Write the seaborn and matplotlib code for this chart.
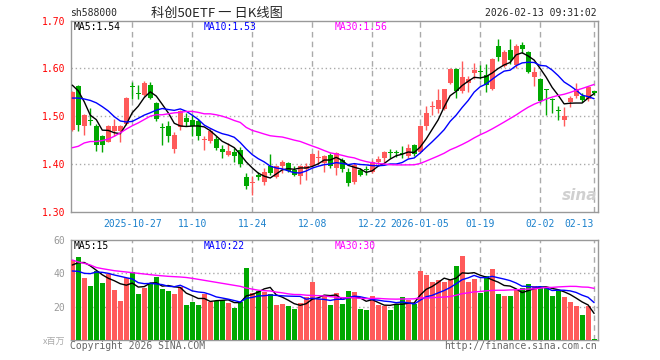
import numpy as np
import pandas as pd
import matplotlib
matplotlib.use("Agg")
import matplotlib.pyplot as plt
import seaborn as sns

# ---------------- data ----------------
opens = [1.472, 1.564, 1.480, 1.490, 1.480, 1.458, 1.447, 1.468, 1.468, 1.484,
         1.563, 1.548, 1.545, 1.566, 1.528, 1.476, 1.479, 1.431, 1.477, 1.496,
         1.493, 1.489, 1.450, 1.449, 1.452, 1.431, 1.419, 1.424, 1.430, 1.373,
         1.360, 1.377, 1.363, 1.395, 1.372, 1.396, 1.403, 1.388, 1.375, 1.389,
         1.396, 1.412, 1.403, 1.419, 1.391, 1.409, 1.384, 1.363, 1.388, 1.388,
         1.384, 1.405, 1.412, 1.424, 1.423, 1.422, 1.417, 1.440, 1.426, 1.479,
         1.520, 1.515, 1.515, 1.570, 1.598, 1.552, 1.570, 1.590, 1.593, 1.587,
         1.557, 1.647, 1.606, 1.639, 1.608, 1.650, 1.634, 1.583, 1.578, 1.555,
         1.534, 1.511, 1.493, 1.529, 1.542, 1.543, 1.535, 1.552]
highs = [1.553, 1.566, 1.505, 1.518, 1.484, 1.460, 1.481, 1.494, 1.481, 1.540,
         1.571, 1.566, 1.573, 1.571, 1.530, 1.486, 1.489, 1.466, 1.514, 1.507,
         1.503, 1.494, 1.459, 1.475, 1.458, 1.440, 1.444, 1.433, 1.435, 1.381,
         1.374, 1.384, 1.391, 1.421, 1.398, 1.408, 1.405, 1.395, 1.398, 1.402,
         1.423, 1.430, 1.419, 1.423, 1.424, 1.412, 1.391, 1.403, 1.391, 1.395,
         1.409, 1.416, 1.427, 1.431, 1.429, 1.437, 1.442, 1.442, 1.482, 1.521,
         1.531, 1.557, 1.558, 1.600, 1.600, 1.615, 1.584, 1.612, 1.608, 1.609,
         1.621, 1.661, 1.638, 1.661, 1.651, 1.655, 1.636, 1.604, 1.581, 1.557,
         1.539, 1.521, 1.520, 1.543, 1.570, 1.549, 1.564, 1.552]
lows = [1.470, 1.470, 1.461, 1.482, 1.428, 1.426, 1.445, 1.458, 1.447, 1.482,
        1.536, 1.536, 1.543, 1.535, 1.489, 1.440, 1.447, 1.423, 1.472, 1.479,
        1.459, 1.450, 1.430, 1.444, 1.430, 1.412, 1.416, 1.405, 1.393, 1.347,
        1.335, 1.367, 1.356, 1.377, 1.370, 1.381, 1.384, 1.374, 1.358, 1.367,
        1.394, 1.398, 1.384, 1.391, 1.377, 1.384, 1.353, 1.359, 1.374, 1.377,
        1.381, 1.398, 1.405, 1.412, 1.415, 1.412, 1.412, 1.417, 1.424, 1.472,
        1.503, 1.507, 1.514, 1.568, 1.538, 1.549, 1.550, 1.577, 1.577, 1.550,
        1.555, 1.615, 1.604, 1.609, 1.600, 1.632, 1.590, 1.563, 1.527, 1.503,
        1.507, 1.491, 1.480, 1.520, 1.539, 1.530, 1.531, 1.545]
closes = [1.550, 1.482, 1.503, 1.489, 1.440, 1.440, 1.479, 1.479, 1.479, 1.538,
          1.562, 1.547, 1.570, 1.538, 1.494, 1.475, 1.458, 1.461, 1.510, 1.488,
          1.480, 1.459, 1.451, 1.470, 1.433, 1.424, 1.428, 1.416, 1.400, 1.353,
          1.362, 1.373, 1.384, 1.381, 1.395, 1.405, 1.386, 1.377, 1.395, 1.395,
          1.421, 1.413, 1.417, 1.395, 1.423, 1.389, 1.361, 1.398, 1.377, 1.387,
          1.405, 1.410, 1.426, 1.423, 1.422, 1.421, 1.433, 1.421, 1.480, 1.507,
          1.521, 1.533, 1.556, 1.598, 1.552, 1.582, 1.578, 1.597, 1.592, 1.566,
          1.619, 1.625, 1.635, 1.618, 1.646, 1.640, 1.592, 1.592, 1.531, 1.554,
          1.533, 1.510, 1.501, 1.538, 1.556, 1.533, 1.562, 1.548]
volumes = [48.0, 50.0, 37.4, 32.4, 41.4, 34.4, 39.6, 30.0, 23.4, 37.0,
           40.8, 27.6, 31.4, 34.0, 38.0, 30.6, 29.4, 27.6, 32.0, 21.0,
           23.0, 21.0, 27.6, 23.0, 23.4, 24.0, 22.4, 19.4, 23.0, 43.4,
           28.4, 29.6, 29.0, 27.4, 21.0, 21.6, 20.4, 18.6, 22.4, 26.0,
           35.0, 24.6, 26.6, 21.0, 28.0, 21.6, 29.4, 28.6, 18.6, 18.0,
           26.4, 21.0, 20.6, 18.0, 21.6, 26.0, 24.0, 21.6, 41.4, 39.0,
           34.6, 36.0, 34.6, 36.0, 44.4, 50.4, 34.6, 36.6, 28.4, 38.4,
           42.6, 27.6, 26.6, 26.6, 30.0, 31.4, 33.4, 32.4, 31.0, 31.4,
           26.6, 29.6, 26.0, 23.0, 20.6, 15.0, 20.6, 0.6]

# moving-average values at the left edge (their history lies before the window)
ma5_head = [1.565, 1.553, 1.530, 1.502]
ma10_head = [1.538, 1.538, 1.536, 1.533, 1.528, 1.520, 1.511, 1.499, 1.490]
ma30_head = [1.434, 1.437, 1.444, 1.447, 1.447, 1.449, 1.452, 1.458, 1.465, 1.473,
             1.480, 1.486, 1.493, 1.500, 1.503, 1.503, 1.505, 1.507, 1.508, 1.510,
             1.510, 1.508, 1.505, 1.505, 1.503, 1.500, 1.496, 1.491, 1.487]
vma5_head = [45.0, 46.4, 46.5, 44.5]
vma10_head = [41.4, 41.2, 40.0, 39.8, 40.8, 40.6, 40.0, 39.0, 38.2]
vma30_head = [48.0, 46.8, 46.0, 45.0, 43.5, 42.8, 42.2, 41.6, 41.2, 40.8,
              40.4, 40.0, 39.6, 39.2, 38.8, 38.5, 38.2, 38.0, 37.8, 37.5,
              37.0, 36.4, 35.8, 35.2, 34.6, 34.0, 33.4, 32.8, 32.2]

tick_pos = [10, 20, 30, 40, 50, 58, 68, 78, 87]
tick_labels = ["2025-10-27", "11-10", "11-24", "12-08", "12-22",
               "2026-01-05", "01-19", "02-02", "02-13"]
price_ticks = [1.30, 1.40, 1.50, 1.60, 1.70]
vol_ticks = [20, 40, 60]
price_legend = ["MA5:1.54", "MA10:1.53", "MA30:1.56"]
vol_legend = ["MA5:15", "MA10:22", "MA30:30"]

# ---------------- helpers ----------------
def moving(values, n, head):
    s = pd.Series(values).rolling(n).mean().to_numpy()
    s[:len(head)] = head
    return s

RED = "#ff5a5a"
GREEN = "#00a800"
MA_COLORS = ["#000000", "#0000ff", "#ff00ff"]
GRIDC = "#aaaaaa"
FRAMEC = "#999999"
MONO = "DejaVu Sans Mono"

sns.set_style("white")
plt.rcParams["font.family"] = ["DejaVu Sans Mono", "Noto Sans CJK SC"]

n = len(closes)
idx = np.arange(n)
o = np.array(opens); c = np.array(closes)
h = np.array(highs); l = np.array(lows)
up = c >= o

df = pd.DataFrame({"idx": idx, "vol": volumes,
                   "dir": np.where(up, "up", "down")})

W, H = 660, 360
fig = plt.figure(figsize=(6.6, 3.6), dpi=100)
def fx(px): return px / W
def fy(py): return 1 - py / H

axp = fig.add_axes([fx(70.5), fy(211.7), fx(597.7) - fx(70.5), fy(20.7) - fy(211.7)])
axv = fig.add_axes([fx(70.5), fy(340), fx(597.7) - fx(70.5), fy(240) - fy(340)])

XL = (-0.3, 87.6)

# ---- price panel ----
for ax in (axp, axv):
    for t in tick_pos:
        ax.axvline(t, color=GRIDC, lw=1, ls=(0, (4, 3)), zorder=0)
for yv in [1.40, 1.50, 1.60]:
    axp.axhline(yv, color=GRIDC, lw=1, ls=(0, (1, 2)), zorder=0)

cols = np.where(up, RED, GREEN)
axp.vlines(idx, l, h, colors=cols, lw=1, zorder=2)
body_h = np.maximum(np.abs(c - o), 0.0021)
axp.bar(idx, body_h, bottom=np.minimum(o, c), width=0.82, color=cols,
        linewidth=0, zorder=3)

ma_df = pd.DataFrame({"idx": idx,
                      "ma5": moving(closes, 5, ma5_head),
                      "ma10": moving(closes, 10, ma10_head),
                      "ma30": moving(closes, 30, ma30_head)})
for key, col in zip(["ma5", "ma10", "ma30"], MA_COLORS):
    sns.lineplot(data=ma_df, x="idx", y=key, ax=axp, color=col, lw=1, zorder=4)

axp.set_xlim(*XL)
axp.set_ylim(1.30, 1.70)
axp.set_yticks(price_ticks)
axp.set_yticklabels([f"{v:.2f}" for v in price_ticks], color="#ff0000",
                    fontsize=7, family=MONO)
axp.set_xticks(tick_pos)
axp.set_xticklabels(tick_labels, color="#1a80cc", fontsize=7, family=MONO)
lbls = axp.get_xticklabels()
lbls[-1].set_ha("right")
axp.tick_params(length=0, pad=4)
axp.tick_params(axis="x", pad=5)
axp.set_xlabel(""); axp.set_ylabel("")

# ---- volume panel ----
sns.barplot(data=df, x="idx", y="vol", hue="dir", palette={"up": RED, "down": GREEN},
            dodge=False, width=0.82, legend=False, ax=axv, linewidth=0,
            saturation=1, zorder=3)
for yv in [20, 40]:
    axv.axhline(yv, color=GRIDC, lw=1, ls=(0, (1, 2)), zorder=0)
vma_df = pd.DataFrame({"idx": idx,
                       "ma5": moving(volumes, 5, vma5_head),
                       "ma10": moving(volumes, 10, vma10_head),
                       "ma30": moving(volumes, 30, vma30_head)})
for key, col in zip(["ma5", "ma10", "ma30"], MA_COLORS):
    axv.plot(vma_df["idx"], vma_df[key], color=col, lw=1, zorder=4)

axv.set_xlim(*XL)
axv.set_ylim(0, 60)
axv.set_yticks(vol_ticks)
axv.set_yticklabels([str(v) for v in vol_ticks], color="#999999", fontsize=7,
                    family=MONO)
axv.set_xticks([])
axv.tick_params(length=0, pad=4)
axv.set_xlabel(""); axv.set_ylabel("")

for ax in (axp, axv):
    for sp in ax.spines.values():
        sp.set_visible(True)
        sp.set_color(FRAMEC)
        sp.set_linewidth(1)

# ---- texts ----
fig.text(fx(70), fy(13), "sh588000", fontsize=7, family=MONO, va="center", ha="left")
fig.text(fx(217), fy(13), "科创50ETF 一 日K线图", fontsize=9.5,
         family=["Noto Sans CJK SC", "DejaVu Sans"], va="center", ha="center")
fig.text(fx(597), fy(13), "2026-02-13 09:31:02", fontsize=7, family=MONO,
         va="center", ha="right")

xs = [74, 204, 334.7]
for x, t, col in zip(xs, price_legend, MA_COLORS):
    fig.text(fx(x), fy(26.5), t, fontsize=7, family=MONO, color=col, va="center")
for x, t, col in zip(xs, vol_legend, MA_COLORS):
    fig.text(fx(x), fy(246), t, fontsize=7, family=MONO, color=col, va="center")

fig.text(fx(70), fy(346), "Copyright 2026 SINA.COM", fontsize=7, family=MONO,
         color="#666666", va="center", ha="left")
fig.text(fx(597), fy(346), "http://finance.sina.com.cn", fontsize=7, family=MONO,
         color="#666666", va="center", ha="right")
fig.text(fx(65), fy(341), "x百万", fontsize=6.5,
         family=["Noto Sans CJK SC", "DejaVu Sans"], color="#aaaaaa",
         va="center", ha="right")
fig.text(fx(580), fy(195), "sina", fontsize=11, fontweight="bold", style="italic",
         family="DejaVu Sans", color="#d0d0d0", va="center", ha="center", zorder=1)

fig.savefig("out.png", dpi=100, facecolor="white")
